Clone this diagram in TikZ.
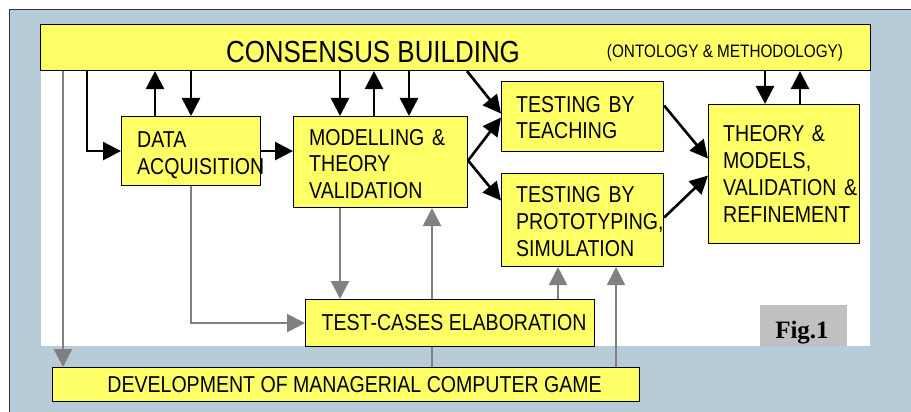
\documentclass[tikz,border=0pt]{standalone}
\usepackage{fontspec}
\setmainfont{Liberation Sans}
\newfontfamily\nar[FakeStretch=0.85]{Liberation Sans}
\newfontfamily\figfont{Liberation Serif}
\usetikzlibrary{arrows.meta,calc}
\definecolor{bgblue}{RGB}{184,203,216}
\definecolor{boxyellow}{RGB}{255,255,102}
\definecolor{arrgray}{RGB}{128,128,128}
\definecolor{figgray}{RGB}{192,192,192}
\definecolor{framegray}{RGB}{50,50,50}
\begin{document}
\begin{tikzpicture}[x=1pt,y=-1pt,
  box/.style={draw=black,line width=1.1pt,fill=boxyellow,anchor=north west,inner sep=0pt,font=\nar\fontsize{23}{27}\selectfont},
  btxt/.style={anchor=base west,inner sep=0pt,align=left,text width=170pt,font=\nar\fontsize{23}{27}\selectfont},
  txt/.style={inner sep=0pt,anchor=base},
  blk/.style={draw=black,line width=2.6pt,-{Triangle[length=18pt,width=18pt]}},
  gry/.style={draw=arrgray,line width=2.4pt,-{Triangle[length=18pt,width=18pt]}},
  gryline/.style={draw=arrgray,line width=2.4pt},
]
\useasboundingbox (0,0) rectangle (911,412);
% background frame
\fill[bgblue] (9,10) rectangle (916,418);
\draw[framegray,line width=1pt] (9,418) -- (9,10) -- (916,10);
\fill[white] (41,24) rectangle (870,346);
% consensus bar
\node[box,minimum width=830pt,minimum height=46pt] (cons) at (40,24) {};
\node[txt,font=\nar\fontsize{30.5}{34}\selectfont] (constxt) at (373,63) {CONSENSUS BUILDING};
\node[txt,font=\nar\fontsize{18}{20}\selectfont] (ontotxt) at (725,58) {(ONTOLOGY \& METHODOLOGY)};
% boxes
\node[box,minimum width=139pt,minimum height=69pt] (data) at (121,116) {};
\node[box,minimum width=174pt,minimum height=91pt] (mod) at (293,116) {};
\node[box,minimum width=162pt,minimum height=70pt] (teach) at (501,81) {};
\node[box,minimum width=162pt,minimum height=93pt] (proto) at (501,173) {};
\node[box,minimum width=151pt,minimum height=139pt] (theory) at (708,104) {};
\node[btxt] (datatxt) at ([xshift=16pt,yshift=-31pt]data.north west) {DATA\\ACQUISITION};
\node[btxt] (modtxt) at ([xshift=16pt,yshift=-29pt]mod.north west) {MODELLING \&\\THEORY\\VALIDATION};
\node[btxt] (teachtxt) at ([xshift=15pt,yshift=-31pt]teach.north west) {TESTING BY\\TEACHING};
\node[btxt] (prototxt) at ([xshift=15pt,yshift=-29pt]proto.north west) {TESTING BY\\PROTOTYPING,\\SIMULATION};
\node[btxt] (theorytxt) at ([xshift=15pt,yshift=-38pt]theory.north west) {THEORY \&\\MODELS,\\VALIDATION \&\\REFINEMENT};
\node[box,minimum width=289pt,minimum height=47pt] (tc) at (305,299) {\hspace*{8pt}TEST-CASES ELABORATION};
\node[box,minimum width=587pt,minimum height=34pt] (dev) at (52,367) {\hspace*{17pt}DEVELOPMENT OF MANAGERIAL COMPUTER GAME};
% figure label
\node[fill=figgray,anchor=north west,minimum width=87pt,minimum height=41pt,inner sep=0pt] (fig) at (760,305) {};
\node[txt,font=\figfont\bfseries\fontsize{25}{28}\selectfont] (figtxt) at (802,338) {Fig.1};
% helper x positions
\coordinate (xa) at (87,0);
\coordinate (xb) at (155,0);
\coordinate (xc) at (191,0);
\coordinate (xd) at (340,0);
\coordinate (xe) at (374,0);
\coordinate (xf) at (409,0);
\coordinate (xg) at (765,0);
\coordinate (xh) at (800,0);
\coordinate (xi) at (63,0);
\coordinate (xk) at (432,0);
\coordinate (xl) at (558,0);
\coordinate (xm) at (616,0);
\coordinate (xn) at (467,0);
% black connectors
\draw[blk] (xa |- cons.south) |- (data.west);
\draw[blk] (xb |- data.north) -- (xb |- cons.south);
\draw[blk] (xc |- cons.south) -- (xc |- data.north);
\draw[blk] (data.east) -- (data.east -| mod.west);
\draw[blk] (xd |- cons.south) -- (xd |- mod.north);
\draw[blk] (xe |- mod.north) -- (xe |- cons.south);
\draw[blk] (xf |- cons.south) -- (xf |- mod.north);
\draw[blk] (xn |- cons.south) -- ([yshift=3pt]teach.west);
\draw[blk] ([yshift=1.5pt]mod.east) -- ([yshift=-1pt]teach.west);
\draw[blk] ([yshift=1.5pt]mod.east) -- ([yshift=19.5pt]proto.west);
\draw[blk] ([yshift=11pt]teach.east) -- ([yshift=15.5pt]theory.west);
\draw[blk] ([yshift=2.5pt]proto.east) -- ([yshift=-1.5pt]theory.west);
\draw[blk] (xg |- cons.south) -- (xg |- theory.north);
\draw[blk] (xh |- theory.north) -- (xh |- cons.south);
% gray connectors
\draw[gry] (xi |- cons.south) -- (xi |- dev.north);
\draw[gry] (xc |- data.south) |- (tc.west);
\draw[gry] (xd |- mod.south) -- (xd |- tc.north);
\draw[gryline] (xk |- dev.north) -- (xk |- tc.south);
\draw[gry] (xk |- tc.north) -- (xk |- mod.south);
\draw[gry] (xl |- tc.north) -- (xl |- proto.south);
\draw[gry] (xm |- dev.north) -- (xm |- proto.south);
\end{tikzpicture}
\end{document}
